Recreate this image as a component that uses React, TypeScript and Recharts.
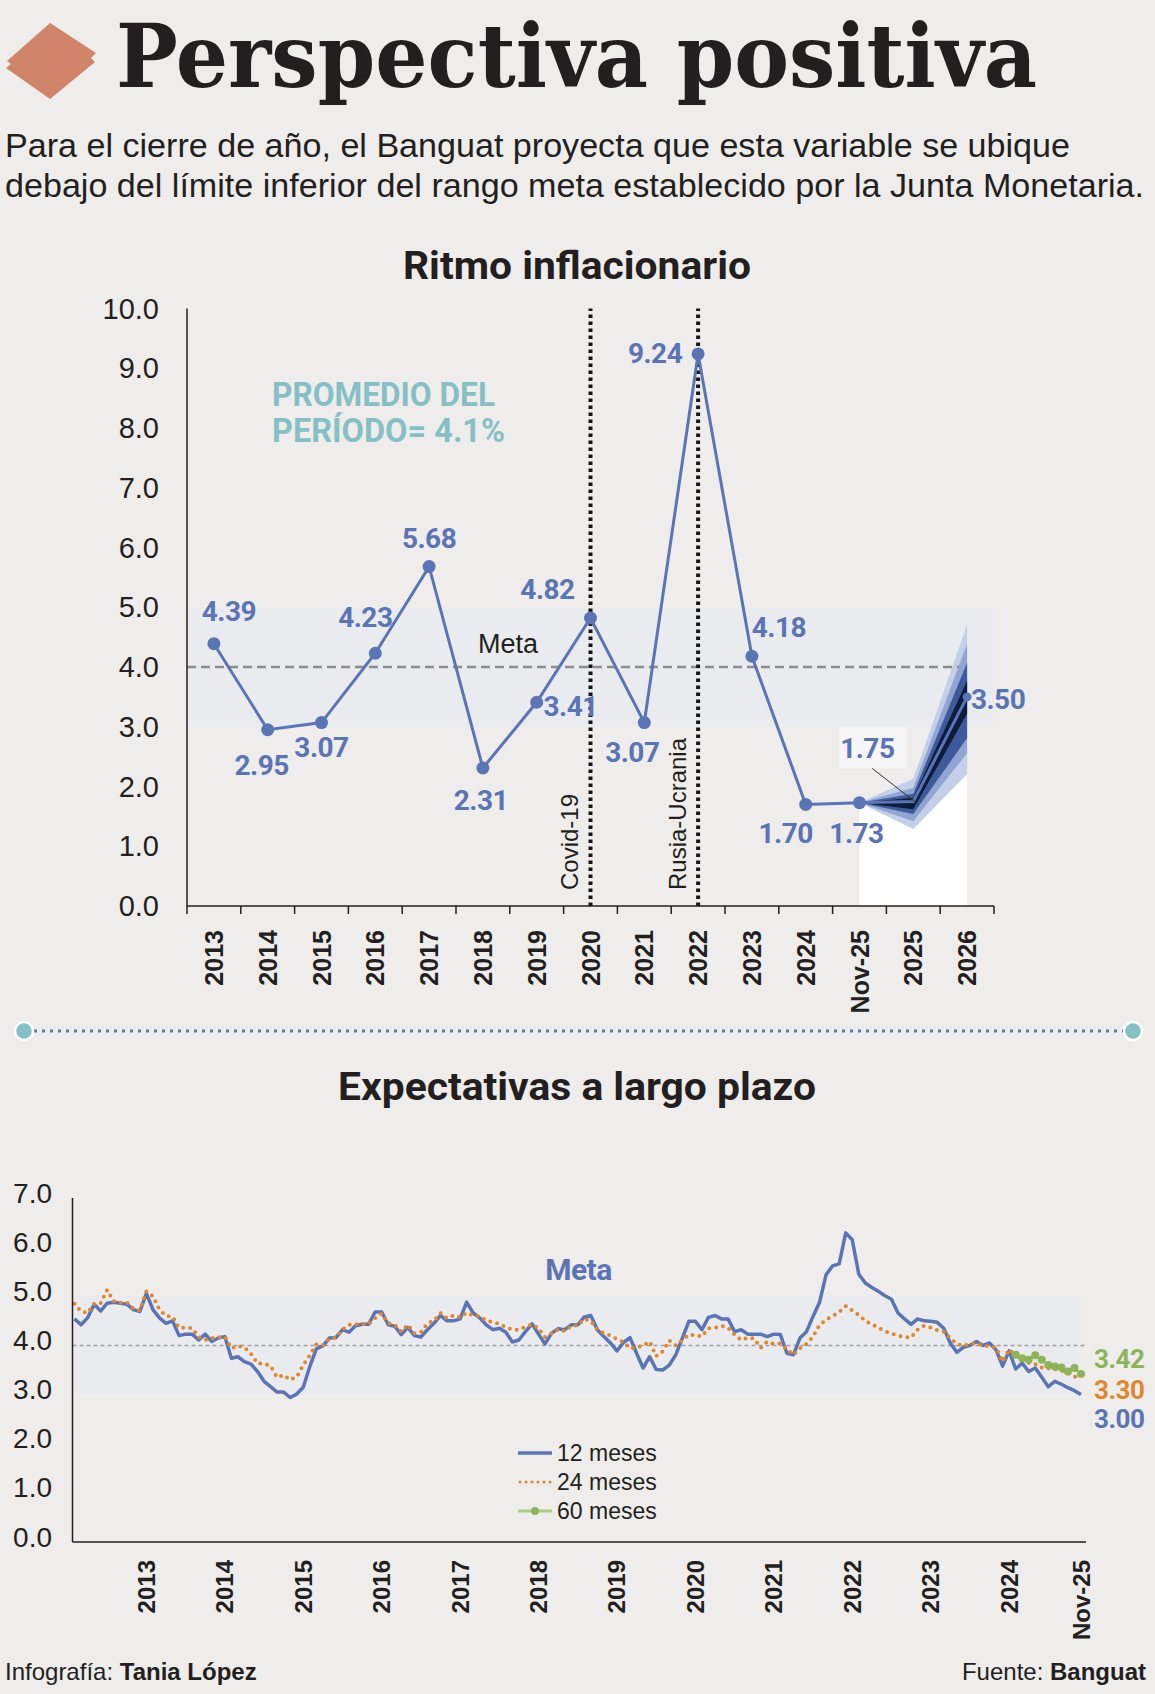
import React from 'react';
import {
  ComposedChart,
  LineChart,
  Line,
  Area,
  XAxis,
  YAxis,
  ReferenceLine,
  ReferenceArea,
  LabelList,
} from 'recharts';

// ---------- colours & fonts ----------
const FONDO = '#eeedeb';
const TINTA = '#231f20';
const AZUL = '#5a74b5';
const NARANJA = '#e0862f';
const VERDE = '#8db35b';
const TEAL = '#86c0c5';
const BANDA = '#eaebef';
const SANS = '"Liberation Sans", Arial, sans-serif';
const NUM = 'Roboto, "Liberation Sans", sans-serif';

// ---------- Ritmo inflacionario ----------
const anios = ['2013', '2014', '2015', '2016', '2017', '2018', '2019', '2020', '2021', '2022', '2023', '2024', 'Nov-25', '2025', '2026'];
const ritmo = [4.39, 2.95, 3.07, 4.23, 5.68, 2.31, 3.41, 4.82, 3.07, 9.24, 4.18, 1.70, 1.73, null, null];
const proyeccion = [null, null, null, null, null, null, null, null, null, null, null, null, 1.73, 1.75, 3.50];
const fanExtInf = [null, null, null, null, null, null, null, null, null, null, null, null, 1.73, 1.29, 2.21];
const fanExtSup = [null, null, null, null, null, null, null, null, null, null, null, null, 1.73, 2.13, 4.71];
const fanMedInf = [null, null, null, null, null, null, null, null, null, null, null, null, 1.73, 1.42, 2.56];
const fanMedSup = [null, null, null, null, null, null, null, null, null, null, null, null, 1.73, 1.98, 4.39];
const fanIntInf = [null, null, null, null, null, null, null, null, null, null, null, null, 1.73, 1.54, 2.81];
const fanIntSup = [null, null, null, null, null, null, null, null, null, null, null, null, 1.73, 1.88, 4.07];
const fanCenInf = [null, null, null, null, null, null, null, null, null, null, null, null, 1.73, 1.62, 3.22];
const fanCenSup = [null, null, null, null, null, null, null, null, null, null, null, null, 1.73, 1.81, 3.77];
const ticksRitmo = [0, 1, 2, 3, 4, 5, 6, 7, 8, 9, 10];
const metaValor = 4;
const rangoMeta = [3, 5];
const eventos = [
  { anio: '2020', texto: 'Covid-19' },
  { anio: '2022', texto: 'Rusia-Ucrania' },
];
const promedioTexto = ['PROMEDIO DEL', 'PERÍODO= 4.1%'];

// label placement (style only): dx, dy from each point
const etiquetaDesp = [
  [15, -32], [-6, 36], [0, 25], [-10, -36], [0, -28], [-2, 33], [34, 4],
  [-43, -29], [-12, 30], [-43, 0], [27, -29], [-20, 29], [-3, 31],
];

const ritmoTabla = anios.map((anio, i) => {
  const row: any = { anio, ritmo: ritmo[i], proy: proyeccion[i] };
  if (fanExtInf[i] != null) {
    row.blanco = [0, fanExtInf[i]];
    row.f1 = [fanExtInf[i], fanExtSup[i]];
    row.f2 = [fanMedInf[i], fanMedSup[i]];
    row.f3 = [fanIntInf[i], fanIntSup[i]];
    row.f4 = [fanCenInf[i], fanCenSup[i]];
  }
  return row;
});

// ---------- Expectativas a largo plazo ----------
const meses = ['Ene', 'Feb', 'Mar', 'Abr', 'May', 'Jun', 'Jul', 'Ago', 'Sep', 'Oct', 'Nov', 'Dic'];
const aniosExp = [2013, 2014, 2015, 2016, 2017, 2018, 2019, 2020, 2021, 2022, 2023, 2024, 2025];
const periodos: string[] = [];
aniosExp.forEach((a) => {
  meses.forEach((m, k) => {
    if (a === 2025 && k > 10) return;
    periodos.push(`${m}-${String(a).slice(2)}`);
  });
});

const expect12 = [
  4.54, 4.42, 4.56, 4.84, 4.70, 4.86, 4.88, 4.86, 4.84, 4.73, 4.69, 5.06,
  4.73, 4.56, 4.45, 4.50, 4.20, 4.23, 4.23, 4.11, 4.23, 4.08, 4.15, 4.18,
  3.74, 3.77, 3.67, 3.62, 3.47, 3.27, 3.16, 3.05, 3.05, 2.94, 3.01, 3.15,
  3.57, 3.93, 3.99, 4.15, 4.16, 4.32, 4.27, 4.40, 4.43, 4.43, 4.68, 4.68,
  4.42, 4.39, 4.22, 4.37, 4.20, 4.17, 4.32, 4.45, 4.61, 4.50, 4.50, 4.54,
  4.88, 4.66, 4.56, 4.42, 4.32, 4.35, 4.27, 4.07, 4.11, 4.28, 4.44, 4.23,
  4.03, 4.25, 4.34, 4.32, 4.42, 4.42, 4.58, 4.61, 4.32, 4.18, 4.05, 3.89,
  4.06, 4.16, 3.84, 3.54, 3.77, 3.51, 3.50, 3.60, 3.81, 4.15, 4.49, 4.49,
  4.32, 4.57, 4.61, 4.54, 4.54, 4.28, 4.32, 4.23, 4.23, 4.23, 4.18, 4.23,
  4.22, 3.84, 3.81, 4.15, 4.28, 4.59, 4.88, 5.44, 5.62, 5.66, 6.29, 6.15,
  5.45, 5.27, 5.18, 5.10, 5.01, 4.94, 4.66, 4.54, 4.43, 4.54, 4.50, 4.49,
  4.47, 4.35, 4.05, 3.86, 3.96, 4.00, 4.08, 4.00, 4.05, 3.91, 3.58, 3.89,
  3.52, 3.64, 3.47, 3.54, 3.35, 3.16, 3.27, 3.21, 3.14, 3.08, 3.00,
];
const expect24 = [
  4.85, 4.69, 4.66, 4.85, 4.86, 5.13, 4.90, 4.87, 4.88, 4.75, 4.71, 5.10,
  5.00, 4.73, 4.60, 4.59, 4.36, 4.36, 4.35, 4.17, 4.11, 4.15, 4.16, 4.18,
  3.94, 3.99, 3.96, 3.83, 3.63, 3.63, 3.58, 3.35, 3.40, 3.30, 3.36, 3.60,
  3.80, 4.02, 4.00, 4.14, 4.16, 4.32, 4.42, 4.43, 4.43, 4.43, 4.56, 4.65,
  4.45, 4.42, 4.28, 4.42, 4.25, 4.27, 4.45, 4.50, 4.66, 4.55, 4.61, 4.57,
  4.67, 4.61, 4.59, 4.51, 4.47, 4.44, 4.37, 4.32, 4.32, 4.38, 4.43, 4.35,
  4.17, 4.24, 4.33, 4.29, 4.40, 4.41, 4.54, 4.50, 4.32, 4.25, 4.20, 4.13,
  4.07, 3.94, 3.96, 4.00, 4.08, 3.78, 3.88, 4.10, 4.00, 4.10, 4.22, 4.21,
  4.18, 4.35, 4.36, 4.40, 4.36, 4.22, 4.11, 4.16, 4.14, 3.95, 4.08, 4.03,
  4.04, 3.92, 3.81, 3.94, 4.03, 4.18, 4.42, 4.52, 4.60, 4.68, 4.80, 4.71,
  4.62, 4.50, 4.43, 4.36, 4.29, 4.24, 4.20, 4.17, 4.16, 4.32, 4.40, 4.36,
  4.31, 4.28, 4.15, 4.03, 3.99, 4.03, 4.04, 4.00, 3.98, 3.96, 3.67, 3.92,
  3.78, 3.72, 3.65, 3.62, 3.55, 3.53, 3.52, 3.49, 3.44, 3.37, 3.30,
];
const inicio60 = 'Ene-25';
const expect60 = [3.81, 3.74, 3.71, 3.80, 3.71, 3.60, 3.57, 3.55, 3.47, 3.54, 3.42];
const ticksExp = [0, 1, 2, 3, 4, 5, 6, 7];
const ticksPeriodo = periodos.filter((p, i) => p.startsWith('Dic') || i === periodos.length - 1);

const idx60 = periodos.indexOf(inicio60);
const expTabla = periodos.map((p, i) => ({
  periodo: p,
  m12: expect12[i],
  m24: expect24[i],
  m60: i >= idx60 ? expect60[i - idx60] : null,
}));

const leyenda = [
  { nombre: '12 meses', color: AZUL, tipo: 'linea' },
  { nombre: '24 meses', color: NARANJA, tipo: 'puntos' },
  { nombre: '60 meses', color: VERDE, tipo: 'marca' },
];

// ---------- layout constants ----------
const R_W = 1155;
const R_H = 740;
const R_MARGIN = { top: 18.5, right: 161, bottom: 14, left: 0 };
const R_YAXIS_W = 187;
const R_PLOT_W = R_W - R_MARGIN.right - R_MARGIN.left - R_YAXIS_W;
const R_BANDA = R_PLOT_W / anios.length;

// ---------- renderers ----------
const numStyle = {
  fontFamily: NUM,
  fontWeight: 700,
  fontSize: 28,
  letterSpacing: -0.5,
};

const TickAnio = (props: any) => {
  const { x, y, payload, index } = props;
  const bw = R_BANDA;
  return (
    <g>
      <line x1={x - bw / 2} x2={x - bw / 2} y1={y} y2={y + 8} stroke={TINTA} strokeWidth={1.5} />
      {index === anios.length - 1 ? (
        <line x1={x + bw / 2} x2={x + bw / 2} y1={y} y2={y + 8} stroke={TINTA} strokeWidth={1.5} />
      ) : null}
      <text
        x={x}
        y={y + 24}
        transform={`rotate(-90 ${x} ${y + 24})`}
        textAnchor="end"
        dominantBaseline="central"
        fontFamily={SANS}
        fontWeight={700}
        fontSize={25}
        fill={TINTA}
      >
        {payload.value}
      </text>
    </g>
  );
};

const TickPeriodo = (props: any) => {
  const { x, y, payload } = props;
  const v: string = payload.value;
  const txt = v.startsWith('Dic') ? `20${v.slice(4)}` : v;
  return (
    <text
      x={x}
      y={y + 18}
      transform={`rotate(-90 ${x} ${y + 18})`}
      textAnchor="end"
      dominantBaseline="central"
      fontFamily={SANS}
      fontWeight={700}
      fontSize={24}
      fill={TINTA}
    >
      {txt}
    </text>
  );
};

const TickValor = (props: any) => {
  const { x, y, payload, shift } = props;
  return (
    <text
      x={x}
      y={y + (shift || 0)}
      textAnchor="end"
      dominantBaseline="central"
      fontFamily={SANS}
      fontSize={props.fs || 28}
      fill={TINTA}
    >
      {Number(payload.value).toFixed(1)}
    </text>
  );
};

const renderRitmoLabel = (p: any) => {
  const { x, y, value, index } = p;
  if (value == null) return null;
  const d = etiquetaDesp[index];
  if (!d) return null;
  return (
    <text x={x + d[0]} y={y + d[1]} textAnchor="middle" dominantBaseline="central" fill={AZUL} {...numStyle}>
      {Number(value).toFixed(2)}
    </text>
  );
};

const renderProyLabel = (p: any) => {
  const { x, y, value, index } = p;
  if (value == null) return null;
  if (index === 13) {
    return (
      <g>
        <rect x={x - 74} y={y - 74} width={67} height={41} fill="#f6f6f6" />
        <line x1={x - 41} y1={y - 33} x2={x + 5} y2={y + 3} stroke="#2c3838" strokeWidth={1} />
        <text x={x - 46} y={y - 53} textAnchor="middle" dominantBaseline="central" fill={AZUL} {...numStyle}>
          {Number(value).toFixed(2)}
        </text>
      </g>
    );
  }
  if (index === anios.length - 1) {
    return (
      <text x={x + 31} y={y + 3} textAnchor="middle" dominantBaseline="central" fill={AZUL} {...numStyle}>
        {Number(value).toFixed(2)}
      </text>
    );
  }
  return null;
};

const finEtiqueta = (color: string, dy: number) => (p: any) => {
  const { x, y, value, index } = p;
  if (value == null || index !== periodos.length - 1) return null;
  return (
    <text
      x={x + 13}
      y={y + dy}
      textAnchor="start"
      dominantBaseline="central"
      fill={color}
      fontFamily={NUM}
      fontWeight={700}
      fontSize={26}
      letterSpacing={-0.5}
    >
      {Number(value).toFixed(2)}
    </text>
  );
};

const projDot = (p: any) => {
  if (p.index === anios.length - 1 && p.value != null) {
    return <circle key={`pd${p.index}`} cx={p.cx} cy={p.cy} r={4.5} fill={AZUL} />;
  }
  return <g key={`pd${p.index}`} />;
};

// band that spans the whole plot width, including the category padding
const bandaRitmo = (p: any) => (
  <rect x={p.x - R_BANDA / 2} y={p.y} width={p.width + R_BANDA} height={p.height} fill={BANDA} stroke="none" />
);

// ---------- charts ----------
const RitmoChart = () => (
  <div style={{ position: 'absolute', left: 0, top: 290 }}>
    <ComposedChart width={R_W} height={R_H} data={ritmoTabla} margin={R_MARGIN}>
      <ReferenceArea
        y1={rangoMeta[0]}
        y2={rangoMeta[1]}
        fill={BANDA}
        fillOpacity={1}
        stroke="none"
        zIndex={-50}
        shape={bandaRitmo}
      />
      <XAxis
        dataKey="anio"
        type="category"
        interval={0}
        padding={{ left: R_BANDA / 2, right: R_BANDA / 2 }}
        tickLine={false}
        tickSize={0}
        tickMargin={0}
        height={110}
        axisLine={{ stroke: TINTA, strokeWidth: 1.5 }}
        tick={(p: any) => <TickAnio {...p} />}
      />
      <YAxis
        type="number"
        domain={[0, 10]}
        ticks={ticksRitmo}
        interval={0}
        width={R_YAXIS_W}
        tickLine={false}
        tickMargin={22}
        axisLine={{ stroke: TINTA, strokeWidth: 1.5 }}
        tick={(p: any) => <TickValor {...p} fs={29} shift={0} />}
      />
      <ReferenceLine
        y={metaValor}
        stroke="#8c8c8c"
        strokeWidth={2.5}
        strokeDasharray="9 5"
        shape={(p: any) => (
          <line x1={p.x1} y1={p.y1} x2={p.x2 - 35} y2={p.y2} stroke="#8c8c8c" strokeWidth={2.5} strokeDasharray="9 5" />
        )}
        label={{
          content: (p: any) => {
            const vb = p.viewBox || {};
            return (
              <text x={vb.x + 321} y={vb.y - 23} textAnchor="middle" dominantBaseline="central" fontFamily={SANS} fontSize={27} fill={TINTA}>
                Meta
              </text>
            );
          },
        }}
      />
      <Area dataKey="blanco" type="linear" stroke="none" fill="#ffffff" fillOpacity={1} isAnimationActive={false} />
      <Area dataKey="f1" type="linear" stroke="none" fill="#c4d0ea" fillOpacity={1} isAnimationActive={false} />
      <Area dataKey="f2" type="linear" stroke="none" fill="#91a5d2" fillOpacity={1} isAnimationActive={false} />
      <Area dataKey="f3" type="linear" stroke="none" fill="#3f5a9b" fillOpacity={1} isAnimationActive={false} />
      <Area dataKey="f4" type="linear" stroke="none" fill="#0c1c3c" fillOpacity={1} isAnimationActive={false} />
      {eventos.map((e) => (
        <ReferenceLine
          key={e.anio}
          x={e.anio}
          stroke="#151515"
          strokeWidth={4}
          strokeDasharray="3.5 3.5"
          label={{
            content: (p: any) => {
              const vb = p.viewBox || {};
              const tx = vb.x - 21;
              const ty = vb.y + vb.height - 16;
              return (
                <text x={tx} y={ty} transform={`rotate(-90 ${tx} ${ty})`} textAnchor="start" dominantBaseline="central" fontFamily={SANS} fontSize={24} fill={TINTA}>
                  {e.texto}
                </text>
              );
            },
          }}
        />
      ))}
      <Line
        dataKey="ritmo"
        type="linear"
        stroke={AZUL}
        strokeWidth={3}
        dot={{ r: 6.5, fill: AZUL, stroke: AZUL, strokeWidth: 0 }}
        activeDot={false}
        isAnimationActive={false}
      >
        <LabelList dataKey="ritmo" content={renderRitmoLabel} />
      </Line>
      <Line
        dataKey="proy"
        type="linear"
        stroke={AZUL}
        strokeWidth={3}
        dot={projDot}
        activeDot={false}
        isAnimationActive={false}
      >
        <LabelList dataKey="proy" content={renderProyLabel} />
      </Line>
    </ComposedChart>
  </div>
);

const ExpectativasChart = () => (
  <div style={{ position: 'absolute', left: 0, top: 1150 }}>
    <LineChart width={1155} height={520} data={expTabla} margin={{ top: 48, right: 69, bottom: 18, left: 0 }}>
      <ReferenceArea y1={rangoMeta[0]} y2={rangoMeta[1]} fill={BANDA} fillOpacity={1} stroke="none" zIndex={-50} />
      <XAxis
        dataKey="periodo"
        type="category"
        ticks={ticksPeriodo}
        interval={0}
        padding={{ left: 2, right: 5 }}
        tickLine={false}
        tickSize={0}
        tickMargin={0}
        height={110}
        axisLine={{ stroke: TINTA, strokeWidth: 1.5 }}
        tick={(p: any) => <TickPeriodo {...p} />}
      />
      <YAxis
        type="number"
        domain={[0, 7]}
        ticks={ticksExp}
        interval={0}
        width={72.5}
        tickLine={false}
        tickMargin={14.5}
        axisLine={{ stroke: TINTA, strokeWidth: 1.5 }}
        tick={(p: any) => <TickValor {...p} fs={28} shift={-5} />}
      />
      <ReferenceLine
        y={metaValor}
        stroke="#a0a0a0"
        strokeWidth={1.5}
        strokeDasharray="4 3"
        label={{
          content: (p: any) => {
            const vb = p.viewBox || {};
            return (
              <text x={vb.x + 506} y={vb.y - 76} textAnchor="middle" dominantBaseline="central" fontFamily={NUM} fontWeight={700} fontSize={30} letterSpacing={-0.5} fill={AZUL}>
                Meta
              </text>
            );
          },
        }}
      />
      <Line dataKey="m12" type="linear" stroke={AZUL} strokeWidth={3.5} strokeLinejoin="round" dot={false} activeDot={false} isAnimationActive={false}>
        <LabelList dataKey="m12" content={finEtiqueta(AZUL, 24)} />
      </Line>
      <Line dataKey="m24" type="linear" stroke={NARANJA} strokeWidth={4} strokeDasharray="0 7" strokeLinecap="round" dot={false} activeDot={false} isAnimationActive={false}>
        <LabelList dataKey="m24" content={finEtiqueta(NARANJA, 10)} />
      </Line>
      <Line dataKey="m60" type="linear" stroke={VERDE} strokeWidth={2} dot={{ r: 4, fill: VERDE, stroke: VERDE, strokeWidth: 0 }} activeDot={false} isAnimationActive={false}>
        <LabelList dataKey="m60" content={finEtiqueta(VERDE, -15)} />
      </Line>
    </LineChart>
  </div>
);

// ---------- page overlay (titles, legend, footer) ----------
const Overlay = () => (
  <svg width={1155} height={1694} style={{ position: 'absolute', left: 0, top: 0 }}>
    <polygon points="50,23 96,53 91,58 95,62 50,99 6,68 11,64 7,61" fill="#d0856a" />
    <text x={116} y={87} fontFamily='"DejaVu Serif", "Liberation Serif", serif' fontWeight={700} fontSize={88} textLength={921} lengthAdjust="spacingAndGlyphs" fill={TINTA}>
      Perspectiva positiva
    </text>
    <text x={5} y={157} fontFamily={SANS} fontSize={34} textLength={1065} lengthAdjust="spacingAndGlyphs" fill={TINTA}>
      Para el cierre de año, el Banguat proyecta que esta variable se ubique
    </text>
    <text x={5} y={197} fontFamily={SANS} fontSize={34} textLength={1139} lengthAdjust="spacingAndGlyphs" fill={TINTA}>
      debajo del límite inferior del rango meta establecido por la Junta Monetaria.
    </text>
    <text x={403} y={279} fontFamily={NUM} fontWeight={700} fontSize={39} textLength={348} lengthAdjust="spacingAndGlyphs" fill={TINTA}>
      Ritmo inflacionario
    </text>
    <text x={272} y={406} fontFamily={NUM} fontWeight={700} fontSize={33} textLength={223} lengthAdjust="spacingAndGlyphs" fill={TEAL}>
      {promedioTexto[0]}
    </text>
    <text x={272} y={442} fontFamily={NUM} fontWeight={700} fontSize={33} textLength={233} lengthAdjust="spacingAndGlyphs" fill={TEAL}>
      {promedioTexto[1]}
    </text>
    {/* separator */}
    <line x1={34} y1={1031} x2={1123} y2={1031} stroke={AZUL} strokeWidth={3} strokeDasharray="3 5" />
    <circle cx={24} cy={1031} r={9} fill={TEAL} stroke="#ffffff" strokeWidth={2.5} />
    <circle cx={1133} cy={1031} r={9} fill={TEAL} stroke="#ffffff" strokeWidth={2.5} />
    <text x={338} y={1100} fontFamily={NUM} fontWeight={700} fontSize={39} textLength={478} lengthAdjust="spacingAndGlyphs" fill={TINTA}>
      Expectativas a largo plazo
    </text>
    {/* legend */}
    {leyenda.map((l, i) => {
      const cy = 1453 + i * 29;
      return (
        <g key={l.nombre}>
          {l.tipo === 'linea' ? <line x1={518} x2={552} y1={cy} y2={cy} stroke={l.color} strokeWidth={3.5} /> : null}
          {l.tipo === 'puntos' ? (
            <line x1={520} x2={552} y1={cy} y2={cy} stroke={l.color} strokeWidth={3} strokeDasharray="0 6" strokeLinecap="round" />
          ) : null}
          {l.tipo === 'marca' ? (
            <g>
              <line x1={518} x2={552} y1={cy} y2={cy} stroke="#a9cc85" strokeWidth={3} />
              <circle cx={535} cy={cy} r={4} fill={l.color} />
            </g>
          ) : null}
          <text x={557} y={cy} dominantBaseline="central" fontFamily={SANS} fontSize={23} fill={TINTA}>
            {l.nombre}
          </text>
        </g>
      );
    })}
    {/* footer */}
    <text x={5} y={1680} fontFamily={SANS} fontSize={24} fill={TINTA}>
      <tspan fontWeight={300}>Infografía: </tspan>
      <tspan fontWeight={700}>Tania López</tspan>
    </text>
    <text x={1146} y={1680} textAnchor="end" fontFamily={SANS} fontSize={24} fill={TINTA}>
      <tspan>Fuente: </tspan>
      <tspan fontWeight={700}>Banguat</tspan>
    </text>
  </svg>
);

export default function App() {
  return (
    <div
      style={{
        position: 'absolute',
        left: 0,
        top: 0,
        width: 1155,
        height: 1694,
        background: FONDO,
        overflow: 'hidden',
      }}
    >
      <Overlay />
      <RitmoChart />
      <ExpectativasChart />
    </div>
  );
}
